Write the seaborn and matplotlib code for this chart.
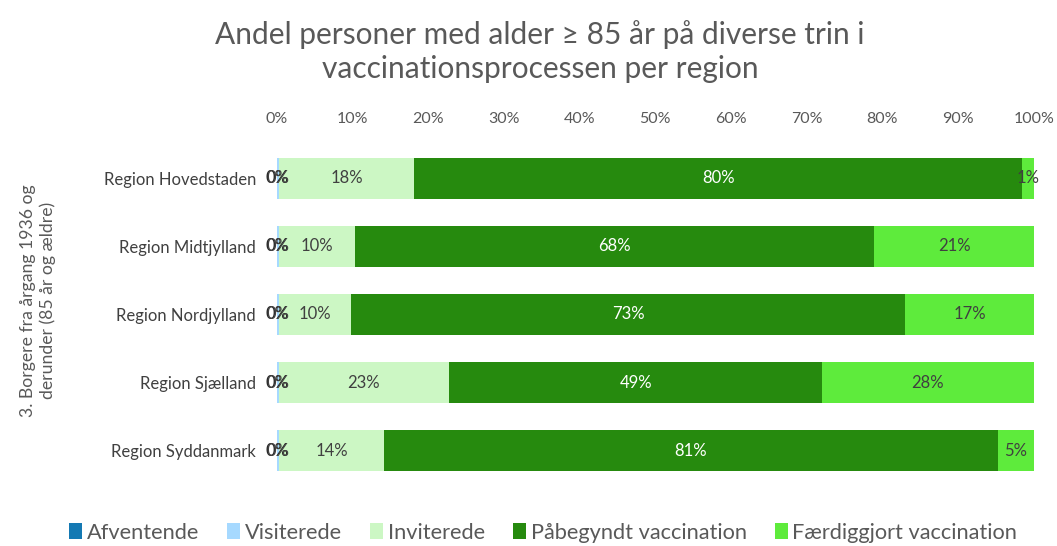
import matplotlib
matplotlib.use("Agg")
import matplotlib.pyplot as plt
import seaborn as sns
import numpy as np
import pandas as pd
from matplotlib.patches import Patch

regions = ["Region Hovedstaden", "Region Midtjylland", "Region Nordjylland",
           "Region Sjælland", "Region Syddanmark"]
series = ["Afventende", "Visiterede", "Inviterede", "Påbegyndt vaccination", "Færdiggjort vaccination"]
afventende = [0.05, 0.05, 0.05, 0.05, 0.05]
visiterede = [0.2, 0.2, 0.2, 0.2, 0.2]
inviterede = [17.9, 10.1, 9.6, 22.5, 13.9]
paabegyndt = [80.3, 68.6, 73.2, 49.3, 81.1]
faerdig = [1.55, 21.05, 16.95, 27.95, 4.75]
labels = {
    "Afventende": ["0%"] * 5,
    "Visiterede": ["0%"] * 5,
    "Inviterede": ["18%", "10%", "10%", "23%", "14%"],
    "Påbegyndt vaccination": ["80%", "68%", "73%", "49%", "81%"],
    "Færdiggjort vaccination": ["1%", "21%", "17%", "28%", "5%"],
}
colors = ["#1479B3", "#A6D9FF", "#CCF7C4", "#268A0E", "#5EEB3C"]
text_colors = ["#262626", "#404040", "#404040", "#FFFFFF", "#404040"]

values = np.array([afventende, visiterede, inviterede, paabegyndt, faerdig])
cum = np.cumsum(values, axis=0)

sns.set_theme(style="white")
plt.rcParams['font.family'] = ['Lato', 'DejaVu Sans']

fig = plt.figure(figsize=(10.57, 5.46), dpi=100)
ax = fig.add_axes([0.262, 0.112, 0.716, 0.624])

for i in reversed(range(len(series))):
    df = pd.DataFrame({"region": regions, "value": cum[i]})
    sns.barplot(data=df, x="value", y="region", orient="h", color=colors[i],
                width=0.6, ax=ax, saturation=1, linewidth=0)

for i, s in enumerate(series):
    for j in range(len(regions)):
        start = cum[i][j] - values[i][j]
        xc = start + values[i][j] / 2
        if i == 1:
            xc += 0.05
        ax.text(xc, j, labels[s][j], ha="center", va="center",
                fontsize=12, color=text_colors[i])

ax.set_xlim(0, 100)
ax.set_ylim(4.5, -0.5)
ax.xaxis.tick_top()
ax.set_xticks(np.arange(0, 101, 10))
ax.set_xticklabels([f"{t}%" for t in range(0, 101, 10)], color="#595959", fontsize=11.5)
ax.tick_params(axis="x", length=0, pad=13)
ax.tick_params(axis="y", length=0, pad=15, labelsize=12, labelcolor="#404040")
ax.set_xlabel("")
ax.set_ylabel("")
for sp in ax.spines.values():
    sp.set_visible(False)

fig.text(0.511, 0.905, "Andel personer med alder ≥ 85 år på diverse trin i\nvaccinationsprocessen per region",
         ha="center", va="center", fontsize=21.5, color="#595959", linespacing=1.25)
fig.text(0.036, 0.45, "3. Borgere fra årgang 1936 og\nderunder (85 år og ældre)", rotation=90,
         ha="center", va="center", fontsize=12.7, color="#595959", linespacing=1.2)

handles = [Patch(facecolor=c, edgecolor="none") for c in colors]
fig.legend(handles, series, loc="lower center", bbox_to_anchor=(0.514, -0.03), ncol=5,
           frameon=False, fontsize=15.7, handlelength=0.6, handleheight=0.7,
           handletextpad=0.2, columnspacing=1.3, labelcolor="#595959")

fig.savefig("out.png", dpi=100)
